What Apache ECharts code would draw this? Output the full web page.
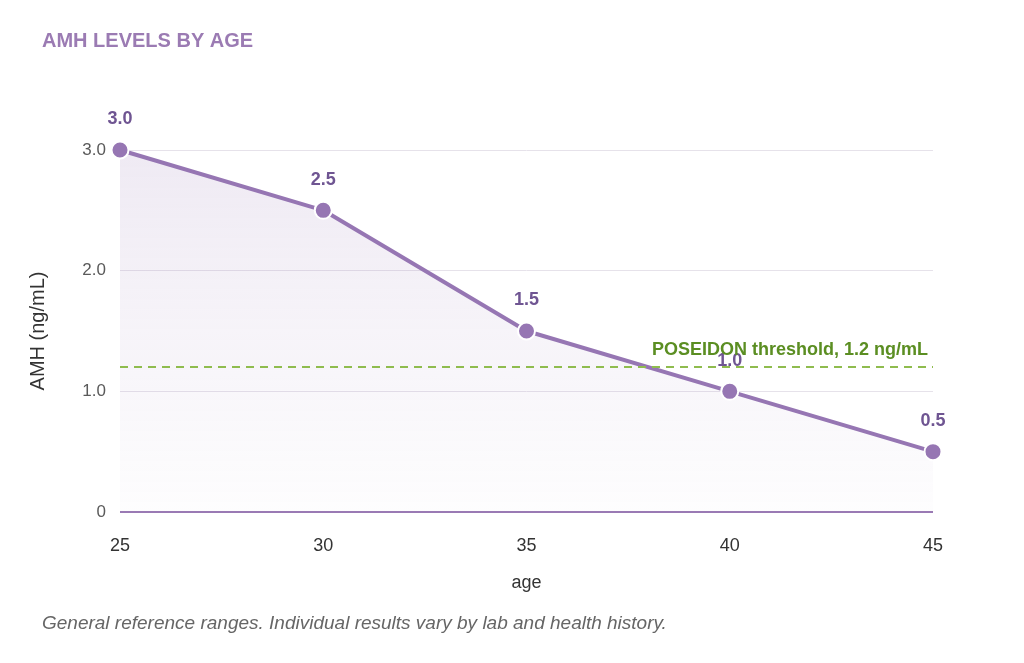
<!DOCTYPE html>
<html lang="en">
<head>
    <meta charset="utf-8">
    <title>AMH levels by age</title>
    <script src="https://cdn.jsdelivr.net/npm/echarts@6/dist/echarts.min.js"></script>
    <style>
        html, body { margin: 0; padding: 0; background: #fff; }
        #chart { width: 1024px; height: 663px; }
    </style>
</head>
<body>
<div id="chart"></div>
<script type="text/javascript">
    // data
    var ages = ['25', '30', '35', '40', '45'];
    var amhValues = [3.0, 2.5, 1.5, 1.0, 0.5];
    var yTicks = [0, 1, 2, 3];
    var thresholdValue = 1.2;
    var thresholdLabel = 'POSEIDON threshold, 1.2 ng/mL';

    var purple = '#9676b3';
    var fontFam = '"Liberation Sans", Arial, sans-serif';

    var chart = echarts.init(document.getElementById('chart'));
    chart.setOption({
        animation: false,
        textStyle: { fontFamily: fontFam },
        title: [{
            text: 'AMH LEVELS BY AGE',
            left: 42, top: 31, padding: 0,
            textStyle: { color: '#9b7bb3', fontSize: 20, fontWeight: 'bold', fontFamily: fontFam }
        }, {
            text: 'General reference ranges. Individual results vary by lab and health history.',
            left: 42, top: 614, padding: 0,
            textStyle: { color: '#666', fontSize: 19, fontStyle: 'italic', fontWeight: 'normal', fontFamily: fontFam }
        }],
        grid: { left: 120, right: 91, top: 150, bottom: 151 },
        xAxis: {
            type: 'category',
            data: ages,
            boundaryGap: false,
            name: 'age',
            nameLocation: 'middle',
            nameGap: 62,
            nameTextStyle: { color: '#333', fontSize: 18 },
            axisLine: { show: false },
            axisTick: { show: false },
            axisLabel: { color: '#333', fontSize: 18, margin: 25 },
            splitLine: { show: false }
        },
        yAxis: {
            type: 'value',
            min: yTicks[0], max: yTicks[yTicks.length - 1], interval: 1,
            name: 'AMH (ng/mL)',
            nameLocation: 'middle',
            nameGap: 72,
            nameTextStyle: { color: '#333', fontSize: 20 },
            axisLine: { show: false },
            axisTick: { show: false },
            axisLabel: {
                color: '#5a5a5a', fontSize: 17, margin: 14,
                formatter: function (v) { return v === 0 ? '0' : v.toFixed(1); }
            },
            splitLine: { lineStyle: { color: '#e6e2ea', width: 1 } }
        },
        series: [{
            type: 'line',
            data: amhValues,
            symbol: 'circle',
            symbolSize: 17,
            lineStyle: { color: purple, width: 4 },
            itemStyle: { color: purple, borderColor: '#fff', borderWidth: 2 },
            label: {
                show: true, position: 'top', distance: 12,
                color: '#6f5592', fontSize: 18, fontWeight: 'bold',
                formatter: function (p) { return p.value.toFixed(1); }
            },
            areaStyle: {
                color: new echarts.graphic.LinearGradient(0, 0, 0, 1, [
                    { offset: 0, color: 'rgba(150,118,179,0.22)' },
                    { offset: 1, color: 'rgba(150,118,179,0.02)' }
                ])
            },
            markLine: {
                silent: true,
                symbol: 'none',
                lineStyle: { color: '#8fbc4e', type: [8, 6], width: 2 },
                label: {
                    position: 'insideEndTop',
                    formatter: thresholdLabel,
                    color: '#5b8e22', fontSize: 18, fontWeight: 'bold', distance: [5, 8]
                },
                data: [{ yAxis: thresholdValue }]
            },
            z: 3
        }, {
            // baseline at zero
            type: 'line',
            data: ages.map(function () { return yTicks[0]; }),
            symbol: 'none',
            lineStyle: { color: '#9a7ab4', width: 2 },
            silent: true,
            z: 2
        }]
    });
</script>
</body>
</html>
